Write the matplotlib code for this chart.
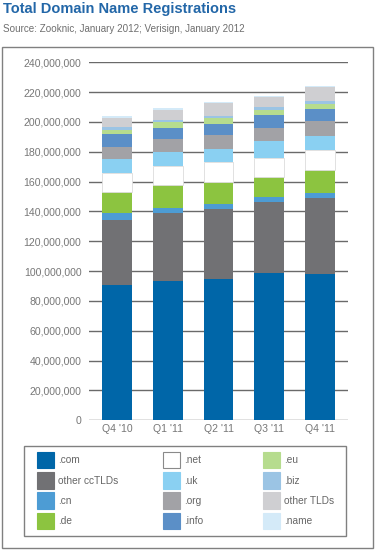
import numpy as np
import matplotlib.pyplot as plt
from matplotlib.patches import Patch, Rectangle

quarters = ["Q4 '10", "Q1 '11", "Q2 '11", "Q3 '11", "Q4 '11"]

# segment sizes in millions, bottom to top
com = [90.7, 93.4, 94.7, 98.9, 98.1]
other_cc = [43.6, 45.6, 46.9, 47.7, 50.9]
cn = [4.7, 3.3, 3.4, 3.4, 3.4]
de = [14.0, 15.4, 14.7, 13.1, 15.4]
net = [12.8, 13.0, 13.5, 12.7, 13.4]
uk = [9.4, 9.2, 8.7, 11.4, 9.4]
org = [8.0, 8.7, 9.4, 8.8, 10.0]
info = [8.5, 7.4, 7.3, 8.7, 8.1]
eu = [2.9, 4.0, 3.9, 3.3, 3.3]
biz = [2.0, 1.3, 1.5, 2.0, 1.9]
other_tlds = [6.3, 6.7, 8.5, 6.7, 9.5]
name = [1.1, 1.2, 0.7, 0.7, 0.9]

series = [com, other_cc, cn, de, net, uk, org, info, eu, biz, other_tlds, name]
labels = [".com", "other ccTLDs", ".cn", ".de", ".net", ".uk", ".org", ".info",
          ".eu", ".biz", "other TLDs", ".name"]
colors = ["#0066a8", "#717174", "#4d9cd4", "#8cc440", "#ffffff", "#8ad0f2",
          "#a2a2a6", "#5b8fc7", "#b6dc8e", "#9bc4e4", "#cfcfd2", "#d4eaf8"]

yticks = np.arange(0, 240_000_001, 20_000_000)

plt.rcParams["font.family"] = ["Liberation Sans", "DejaVu Sans"]
W, H = 377, 554
fig = plt.figure(figsize=(W / 100, H / 100), dpi=100, facecolor="white")

# outer frame and legend frame, in pixels
fig.add_artist(Rectangle((1.5 / W, 1 - 548 / H), 371.5 / W, 501 / H, transform=fig.transFigure,
                         fill=False, edgecolor="#808080", lw=1.0))
fig.add_artist(Rectangle((24 / W, 1 - 536 / H), 322 / W, 90 / H, transform=fig.transFigure,
                         fill=False, edgecolor="#808080", lw=1.0))

fig.text(3 / W, 1 - 13.5 / H, "Total Domain Name Registrations", fontsize=10.5,
         fontweight="bold", color="#2367a8", ha="left", va="baseline")
fig.text(3 / W, 1 - 31.5 / H, "Source: Zooknic, January 2012; Verisign, January 2012",
         fontsize=7.1, color="#6e6e6e", ha="left", va="baseline")

ax = fig.add_axes([89 / W, 1 - 420.3 / H, 259 / W, 358 / H])
x = np.arange(len(quarters))
bottom = np.zeros(len(quarters))
for vals, lab, col in zip(series, labels, colors):
    v = np.array(vals) * 1e6
    ec = "#dcdcdc" if col == "#ffffff" else "none"
    ax.bar(x, v, width=0.59, bottom=bottom, color=col, edgecolor=ec, lw=0.6, zorder=3)
    bottom += v

ax.set_xlim(-0.55, 4.55)
ax.set_ylim(0, 240_000_000)
ax.set_yticks(yticks)
ax.set_yticklabels([f"{t:,.0f}" for t in yticks])
ax.set_xticks(x)
ax.set_xticklabels(quarters)
ax.tick_params(axis="y", length=0, pad=5.5, labelsize=7.6, labelcolor="#777777")
ax.tick_params(axis="x", length=0, pad=3, labelsize=7.6, labelcolor="#777777")
ax.yaxis.grid(True, color="#6a6a6a", lw=1.0, zorder=0)
ax.set_axisbelow(True)
for s in ax.spines.values():
    s.set_visible(False)

handles = [Patch(facecolor=c, edgecolor=("#8a8a8a" if c == "#ffffff" else c), lw=0.8)
           for c in colors]
col_x = [37, 163, 263]
for i, cx in enumerate(col_x):
    fig.legend(handles[4 * i:4 * i + 4], labels[4 * i:4 * i + 4], loc="upper left",
               bbox_to_anchor=(cx / W, 1 - 452 / H), frameon=False, borderpad=0,
               borderaxespad=0, handlelength=1.63, handleheight=2.1, handletextpad=0.45,
               labelspacing=0.38, prop={"size": 7.3}, labelcolor="#666666")

fig.savefig("out.png", dpi=100, facecolor="white")
